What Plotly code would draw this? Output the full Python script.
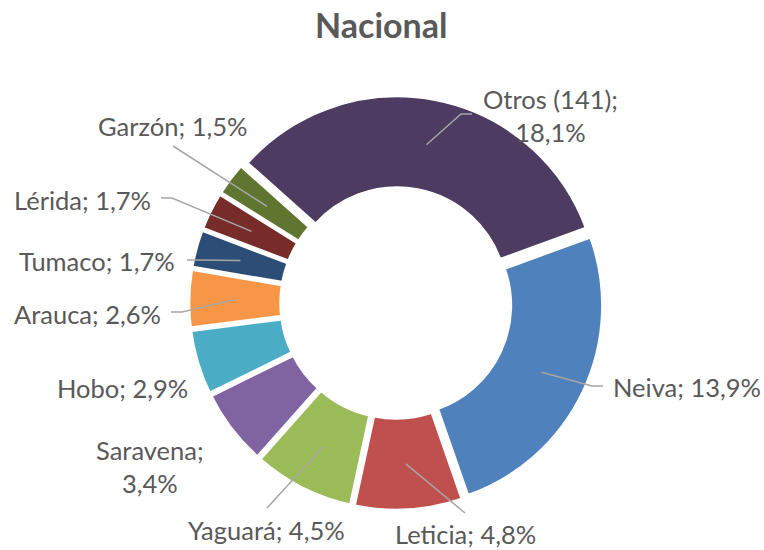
import math
import plotly.graph_objects as go

# ---------------- data ----------------
labels = ["Neiva", "Leticia", "Yaguará", "Saravena", "Hobo", "Arauca",
          "Tumaco", "Lérida", "Garzón", "Otros (141)"]
values = [13.9, 4.8, 4.5, 3.4, 2.9, 2.6, 1.7, 1.7, 1.5, 18.1]
colors = ["#4F81BD", "#C0504D", "#9BBB59", "#8064A2", "#4BACC6", "#F79646",
          "#2C4D75", "#772C2A", "#5F7530", "#4D3B62"]
title_text = "Nacional"

# ---------------- geometry / style ----------------
W, H = 764, 550
CX, CY = 396, 303          # donut centre (px, from top-left)
R = 202                    # outer radius (px)
PULL = 0.028
HOLE = 0.54
ROTATION = 70
FONT = "Lato"
TXT_COLOR = "#595959"
LEADER_COLOR = "#A6A6A6"
LABEL_SIZE = 25.5
TITLE_SIZE = 34

# label placement (text centre px) and leader line bend/end points (px)
label_pos = {
    "Neiva": (687, 387), "Leticia": (466, 534), "Yaguará": (266, 530),
    "Saravena": (150, 466), "Hobo": (123, 388), "Arauca": (87, 314),
    "Tumaco": (97, 261), "Lérida": (82, 200), "Garzón": (172, 126),
    "Otros (141)": (550, 115),
}
leader_pts = {
    "Neiva": [(592, 386), (603, 386)],
    "Leticia": [(465, 513)],
    "Yaguará": [(267, 508)],
    "Saravena": None,
    "Hobo": None,
    "Arauca": [(182, 312), (171, 312)],
    "Tumaco": [(193, 260), (187, 260)],
    "Lérida": [(172, 198), (161, 198)],
    "Garzón": [(173, 146)],
    "Otros (141)": [(461, 114), (472, 114)],
}
two_line = {"Saravena", "Otros (141)"}


def px2paper(x, y):
    return x / W, 1 - y / H


def fmt(v):
    return f"{v:.1f}".replace(".", ",") + "%"


half = R * (1 + PULL)
dom_x = [(CX - half) / W, (CX + half) / W]
dom_y = [1 - (CY + half) / H, 1 - (CY - half) / H]

fig = go.Figure()
fig.add_trace(go.Pie(
    labels=labels, values=values, sort=False, direction="clockwise",
    rotation=ROTATION, hole=HOLE, pull=[PULL] * len(values),
    marker=dict(colors=colors, line=dict(color="white", width=4)),
    textinfo="none", hoverinfo="label+percent", showlegend=False,
    domain=dict(x=dom_x, y=dom_y),
))

# slice anchors from data
total = sum(values)
d = PULL * R
r_anchor = (HOLE * R + R) / 2 + d
cum = 0.0
annotations = []
shapes = []
for lab, v in zip(labels, values):
    mid = ROTATION + (cum + v / 2) / total * 360
    cum += v
    a = math.radians(mid)
    ax_px = CX + r_anchor * math.sin(a)
    ay_px = CY - r_anchor * math.cos(a)
    sep = ";<br>" if lab in two_line else "; "
    tx, ty = label_pos[lab]
    px, py = px2paper(tx, ty)
    annotations.append(dict(
        text=f"{lab}{sep}{fmt(v)}", x=px, y=py, xref="paper", yref="paper",
        xanchor="center", yanchor="middle", showarrow=False,
        font=dict(family=FONT, size=LABEL_SIZE, color=TXT_COLOR),
    ))
    pts = leader_pts[lab]
    if pts:
        path_pts = [(ax_px, ay_px)] + pts
        path = "M " + " L ".join(
            f"{px2paper(x, y)[0]:.5f},{px2paper(x, y)[1]:.5f}" for x, y in path_pts)
        shapes.append(dict(type="path", path=path, xref="paper", yref="paper",
                           line=dict(color=LEADER_COLOR, width=1.5)))

annotations.append(dict(
    text=f"<b>{title_text}</b>", x=381 / W, y=1 - 24 / H, xref="paper", yref="paper",
    xanchor="center", yanchor="middle", showarrow=False,
    font=dict(family=FONT, size=TITLE_SIZE, color=TXT_COLOR),
))

fig.update_layout(
    width=W, height=H, margin=dict(l=0, r=0, t=0, b=0),
    paper_bgcolor="white", plot_bgcolor="white",
    annotations=annotations, shapes=shapes,
)

fig.write_html("out.html",
               config={"displayModeBar": False},
               post_script="document.body.style.margin='0';"
                           "document.body.style.overflow='hidden';")
